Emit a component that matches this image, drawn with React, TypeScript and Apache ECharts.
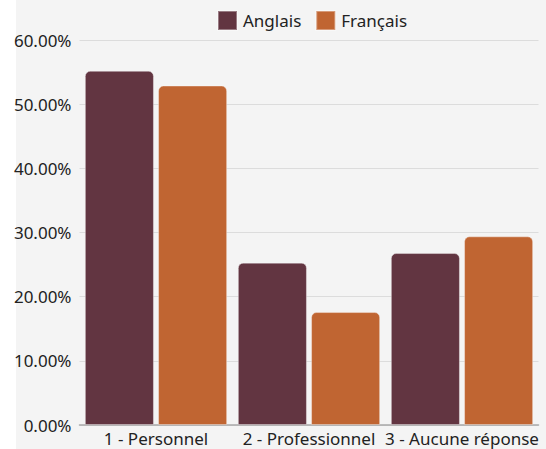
import React, { useEffect, useRef } from "react";
import * as echarts from "echarts";

const categories = ["1 - Personnel", "2 - Professionnel", "3 - Aucune réponse"];
const anglais = [55.2, 25.3, 26.8];
const francais = [52.9, 17.6, 29.4];
const seriesNames = ["Anglais", "Français"];
const colors = ["#623541", "#c06532"];

export default function App() {
  const ref = useRef<HTMLDivElement>(null);
  useEffect(() => {
    document.body.style.margin = "0";
    const chart = echarts.init(ref.current!, null, { renderer: "svg" });
    const font = "'Noto Sans', 'Open Sans', sans-serif";
    chart.setOption({
      animation: false,
      backgroundColor: "#ffffff",
      textStyle: { fontFamily: font },
      graphic: [
        {
          type: "rect",
          left: 16,
          top: 0,
          z: -100,
          silent: true,
          shape: { width: 530, height: 449 },
          style: { fill: "#f4f4f4" },
        },
      ],
      legend: {
        top: 10,
        left: 217,
        padding: 0,
        itemWidth: 19,
        itemHeight: 19,
        itemGap: 14,
        icon: "rect",
        textStyle: { fontSize: 17, color: "#222", fontFamily: font, padding: [0, 0, 0, 1] },
        data: seriesNames,
      },
      grid: { left: 79.5, right: 7.5, top: 40, bottom: 24, containLabel: false },
      xAxis: {
        type: "category",
        data: categories,
        axisLine: { lineStyle: { color: "#a9a9a9", width: 1.5 } },
        axisTick: { show: false },
        axisLabel: { fontSize: 17, lineHeight: 18, color: "#222", margin: 4, fontFamily: font, interval: 0 },
      },
      yAxis: {
        type: "value",
        min: 0,
        max: 60,
        interval: 10,
        axisLine: { show: false },
        axisTick: { show: false },
        splitLine: { lineStyle: { color: "#dcdcdc", width: 1 } },
        axisLabel: {
          fontSize: 17,
          color: "#222",
          margin: 8,
          fontFamily: font,
          formatter: (v: number) => v.toFixed(2) + "%",
        },
      },
      series: [
        {
          name: seriesNames[0],
          type: "bar",
          data: anglais,
          barGap: "6%",
          barCategoryGap: "7%",
          itemStyle: { color: colors[0], borderRadius: [5, 5, 0, 0], borderColor: "rgba(255,255,255,0.35)", borderWidth: 1 },
        },
        {
          name: seriesNames[1],
          type: "bar",
          data: francais,
          barGap: "6%",
          barCategoryGap: "7%",
          itemStyle: { color: colors[1], borderRadius: [5, 5, 0, 0], borderColor: "rgba(255,255,255,0.35)", borderWidth: 1 },
        },
      ],
    });
    return () => chart.dispose();
  }, []);
  return <div ref={ref} style={{ width: 546, height: 449 }} />;
}
